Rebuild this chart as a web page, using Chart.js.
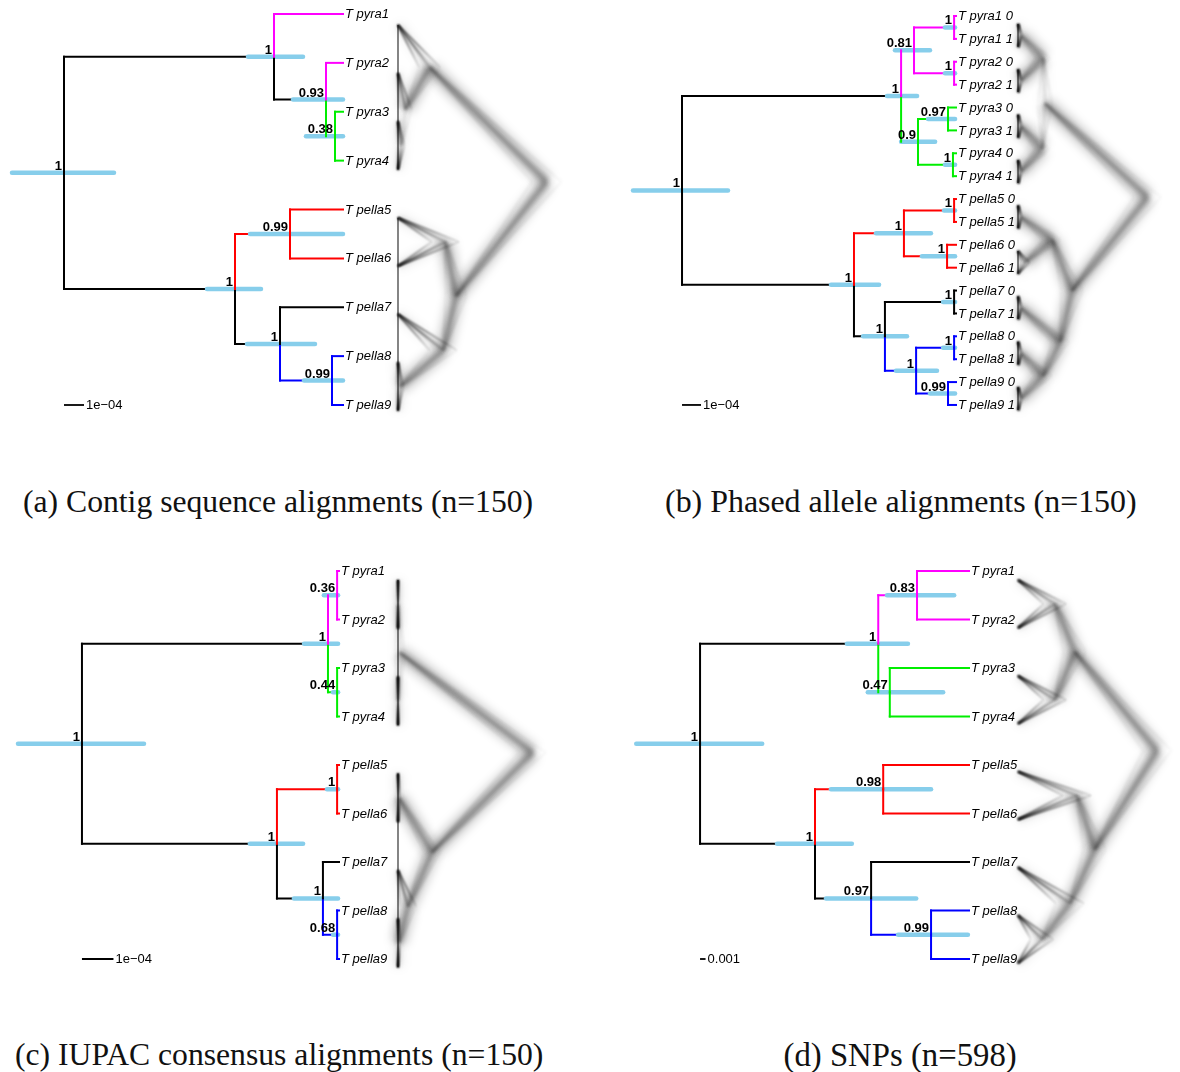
<!DOCTYPE html>
<html>
<head>
<meta charset="utf-8">
<script src="https://cdn.jsdelivr.net/npm/chart.js@4/dist/chart.umd.min.js"></script>
<style>
  html, body { margin: 0; padding: 0; background: #fff; }
  #fig { position: relative; width: 1180px; height: 1072px; overflow: hidden; background: #fff; }
  .panel { position: absolute; }
  .panel canvas { display: block; }
  .cap { position: absolute; font-family: "Liberation Serif", "DejaVu Serif", serif; font-size: 28px;
         line-height: 34px; color: #111; white-space: nowrap; }
</style>
</head>
<body>
<div id="fig">
  <div class="panel" style="left:0px;top:0px"><canvas id="cA" width="600" height="440"></canvas></div>
  <div class="panel" style="left:600px;top:0px"><canvas id="cB" width="580" height="440"></canvas></div>
  <div class="panel" style="left:0px;top:550px"><canvas id="cC" width="600" height="440"></canvas></div>
  <div class="panel" style="left:600px;top:550px"><canvas id="cD" width="580" height="440"></canvas></div>
  <div class="cap" data-cx="278" data-cy="502" data-w="510">(a) Contig sequence alignments (n=150)</div>
  <div class="cap" data-cx="901" data-cy="502" data-w="472">(b) Phased allele alignments (n=150)</div>
  <div class="cap" data-cx="279" data-cy="1055" data-w="528">(c) IUPAC consensus alignments (n=150)</div>
  <div class="cap" data-cx="900" data-cy="1055" data-w="233">(d) SNPs (n=598)</div>
</div>
<script>
// ===================== data =====================
// Node numbering: tips first (0..n-1), then internal nodes; the first internal node is the root.
// Heights are node ages above the tips (tree units), HPD = 95% height interval of the node.
// Cloud heights / spreads describe where the sampled trees place each node (centre, half-range).

// ---- (a) contig sequence alignments, units of 1e-4 ----
const tipsA = ['T pyra1','T pyra2','T pyra3','T pyra4','T pella5','T pella6','T pella7','T pella8','T pella9'];
const parentA = [10, 11, 12, 12, 14, 14, 15, 16, 16,  null, 9, 10, 11, 9, 13, 13, 15];
const cladeA = ['pyraA','pyraA','pyraB','pyraB','pellaA','pellaA','stem','pellaB','pellaB',
                'stem','stem','stem','pyraB','stem','pellaA','stem','pellaB'];
const heightA  = [13.95, 3.45, 0.85, 0.40, 5.40, 2.65, 3.15, 0.55];
const hpdLoA   = [11.45, 2.00, 0.00, 0.00, 4.10, 0.00, 1.40, 0.00];
const hpdHiA   = [16.55, 4.75, 2.50, 1.85, 6.80, 4.65, 4.80, 1.95];
const supportA = [1, 1, 0.93, 0.38, 1, 0.99, 1, 0.99];
const cloudHeightA = [14.1, 3.0, 0.7, 0.3, 5.5, 4.5, 4.3, 0.2];
const cloudSpreadA = [1.4, 1.0, 0.6, 0.3, 1.0, 1.3, 1.3, 0.3];
const cloudBarsA = [[0, 3], [4, 8]];

// ---- (b) phased allele alignments, units of 1e-4 ----
const tipsB = ['T pyra1 0','T pyra1 1','T pyra2 0','T pyra2 1','T pyra3 0','T pyra3 1','T pyra4 0','T pyra4 1',
               'T pella5 0','T pella5 1','T pella6 0','T pella6 1','T pella7 0','T pella7 1',
               'T pella8 0','T pella8 1','T pella9 0','T pella9 1'];
const parentB = [21, 21, 22, 22, 24, 24, 25, 25, 28, 28, 29, 29, 31, 31, 33, 33, 34, 34,
                 null, 18, 19, 20, 20, 19, 23, 23, 18, 26, 27, 27, 26, 30, 30, 32, 32];
const cladeB = ['pyraA','pyraA','pyraA','pyraA','pyraB','pyraB','pyraB','pyraB',
                'pellaA','pellaA','pellaA','pellaA','stem','stem','pellaB','pellaB','pellaB','pellaB',
                'stem','stem','pyraA','pyraA','pyraA','pyraB','pyraB','pyraB',
                'stem','pellaA','pellaA','pellaA','stem','stem','pellaB','pellaB','pellaB'];
const heightB  = [14.42, 2.89, 2.21, 0.10, 0.10, 2.00, 0.42, 0.16, 5.37, 2.74, 0.10, 0.47, 3.74, 0.10, 2.10, 0.10, 0.42];
const hpdLoB   = [12.00, 2.05, 1.37, 0.05, 0.05, 1.10, 0.05, 0.05, 4.05, 1.32, 0.05, 0.05, 2.58, 0.05, 1.00, 0.05, 0.05];
const hpdHiB   = [17.00, 3.63, 3.21, 0.58, 0.58, 2.89, 1.47, 0.58, 6.58, 4.21, 0.63, 1.79, 4.89, 0.68, 3.16, 0.68, 1.37];
const supportB = [1, 1, 0.81, 1, 1, 0.9, 0.97, 1, 1, 1, 1, 1, 1, 1, 1, 1, 0.99];
const cloudHeightB = [14.4, 3.0, 2.8, 0.3, 0.3, 2.7, 0.3, 0.3, 6.0, 3.8, 0.3, 0.8, 4.7, 0.3, 2.8, 0.3, 0.3];
const cloudSpreadB = [1.5, 0.8, 0.8, 0.2, 0.2, 0.8, 0.2, 0.2, 1.2, 1.0, 0.2, 0.5, 1.0, 0.2, 1.0, 0.2, 0.2];
const cloudBarsB = [[0,1],[2,3],[4,5],[6,7],[8,9],[10,11],[12,13],[14,15],[16,17]];

// ---- (c) IUPAC consensus alignments, units of 1e-4 ----
const tipsC = tipsA;
const parentC = [11, 11, 12, 12, 14, 14, 15, 16, 16,  null, 9, 10, 10, 9, 13, 13, 15];
const cladeC = ['pyraA','pyraA','pyraB','pyraB','pellaA','pellaA','stem','pellaB','pellaB',
                'stem','stem','pyraA','pyraB','stem','pellaA','stem','pellaB'];
const heightC  = [8.16, 0.35, 0.06, 0.06, 1.97, 0.06, 0.51, 0.06];
const hpdLoC   = [6.19, 0.03, 0.03, 0.03, 1.14, 0.03, 0.03, 0.03];
const hpdHiC   = [10.19, 1.11, 0.48, 0.19, 2.83, 0.38, 1.43, 0.19];
const supportC = [1, 1, 0.36, 0.44, 1, 1, 1, 0.68];
const cloudHeightC = [8.16, 0.1, 0.0, 0.0, 2.06, 0.05, 0.6, 0.05];
const cloudSpreadC = [0.8, 0.3, 0.0, 0.0, 0.5, 0.05, 0.5, 0.05];
const cloudBarsC = [[0, 3], [4, 8]];

// ---- (d) SNPs, units of 0.001 ----
const tipsD = tipsA;
const parentD = parentC;
const cladeD = cladeC;
const heightD  = [48.9, 16.5, 9.45, 14.4, 28.0, 15.6, 17.8, 6.9];
const hpdLoD   = [37.6, 11.1, 2.7, 4.7, 21.3, 6.9, 9.6, 0.2];
const hpdHiD   = [60.5, 22.2, 14.9, 18.4, 34.9, 25.1, 26.0, 12.9];
const supportD = [1, 1, 0.83, 0.47, 1, 0.98, 0.97, 0.99];
const cloudHeightD = [49, 20, 13, 13, 27, 20.8, 18.3, 8.5];
const cloudSpreadD = [5, 4, 4, 4, 4, 5, 5, 4];
const cloudBarsD = [];

const scaleLabels = { A: '1e\u221204', B: '1e\u221204', C: '1e\u221204', D: '0.001' };

// ===================== styles & layout =====================
const cladeColor = { stem: '#000000', pyraA: '#ff00ff', pyraB: '#00ee00', pellaA: '#ff0000', pellaB: '#0000ff' };
const HPD_COLOR = '#87ceeb';
const FONT_TIP = 'italic 13px "Liberation Sans", Arial, sans-serif';
const FONT_SUP = 'bold 13px "Liberation Sans", Arial, sans-serif';
const FONT_SCALE = '13px "Liberation Sans", Arial, sans-serif';

// pixel layout of each panel canvas: tree tips column, px per unit, tip rows; same for the cloud
const layouts = {
  A: { tipPx: 343, ppu: 20,   y0: 14, dy: 48.875, cTipPx: 398, cppu: 10.54, cy0: 25, cdy: 48.2 },
  B: { tipPx: 356, ppu: 19,   y0: 16, dy: 22.88,  cTipPx: 418, cppu: 9.0,   cy0: 24, cdy: 22.7 },
  C: { tipPx: 339, ppu: 31.5, y0: 21, dy: 48.5,   cTipPx: 398, cppu: 16.5,  cy0: 30, cdy: 48.4 },
  D: { tipPx: 369, ppu: 5.5,  y0: 21, dy: 48.5,   cTipPx: 418, cppu: 2.84,  cy0: 30, cdy: 47.9 }
};

// ===================== helpers =====================
function nodeGeometry(tips, parent, height, cloudHeight, cloudSpread) {
  const n = tips.length, total = parent.length;
  const kids = Array.from({ length: total }, () => []);
  parent.forEach((p, i) => { if (p !== null) kids[p].push(i); });
  const h = [], ch = [], cs = [], y = [];
  for (let i = 0; i < total; i++) {
    h[i] = i < n ? 0 : height[i - n];
    ch[i] = i < n ? 0 : cloudHeight[i - n];
    cs[i] = i < n ? 0 : cloudSpread[i - n];
  }
  function yOf(i) {
    if (y[i] !== undefined) return y[i];
    if (i < n) return (y[i] = i);
    const ys = kids[i].map(yOf);
    return (y[i] = ys.reduce((a, b) => a + b, 0) / ys.length);
  }
  for (let i = 0; i < total; i++) yOf(i);
  return { n, total, h, ch, cs, y, root: parent.indexOf(null) };
}

function fadeSegment(a0, a1) {
  return (c) => {
    const g = c.chart.ctx.createLinearGradient(c.p0.x, c.p0.y, c.p1.x + 0.01, c.p1.y + 0.01);
    g.addColorStop(0, `rgba(0,0,0,${a0})`);
    g.addColorStop(1, `rgba(0,0,0,${a1})`);
    return g;
  };
}

function line(points, extra) {
  return Object.assign({ data: points, showLine: true, pointRadius: 0, borderCapStyle: 'butt',
                         tension: 0, fill: false }, extra);
}

const hazePlugin = {
  id: 'haze',
  beforeDatasetDraw(chart, args) {
    const ds = chart.data.datasets[args.index];
    chart.ctx.save();
    if (ds.blurPx) chart.ctx.filter = `blur(${ds.blurPx}px)`;
  },
  afterDatasetDraw(chart) { chart.ctx.restore(); }
};

const labelPlugin = {
  id: 'treeLabels',
  afterDatasetsDraw(chart) {
    const t = chart.options.plugins.treeLabels;
    const { ctx, scales } = chart;
    const g = t.geo;
    ctx.save();
    ctx.fillStyle = '#000';
    // tip names
    ctx.font = FONT_TIP; ctx.textAlign = 'left'; ctx.textBaseline = 'middle';
    t.tips.forEach((name, i) => {
      ctx.fillText(name, scales.x.getPixelForValue(0) + 2, scales.y.getPixelForValue(i) + 0.5);
    });
    // posterior supports
    ctx.font = FONT_SUP; ctx.textAlign = 'right'; ctx.textBaseline = 'alphabetic';
    t.support.forEach((s, k) => {
      const i = g.n + k;
      ctx.fillText(String(s), scales.x.getPixelForValue(g.h[i]) - 2, scales.y.getPixelForValue(g.y[i]) - 3);
    });
    // scale bar label
    ctx.font = FONT_SCALE; ctx.textAlign = 'left'; ctx.textBaseline = 'middle';
    ctx.fillText(t.scaleLabel, scales.x.getPixelForValue(g.h[g.root] - 1) + 2,
                 scales.y.getPixelForValue(g.n - 1) + 0.5);
    ctx.restore();
  }
};

function buildPanel(canvasId, key, tips, parent, clade, height, lo, hi, support, cloudHeight, cloudSpread, cloudBars) {
  const canvas = document.getElementById(canvasId);
  const W = canvas.width, H = canvas.height;
  const L = layouts[key];
  const g = nodeGeometry(tips, parent, height, cloudHeight, cloudSpread);
  const ds = [];
  const axes = { xAxisID: 'xc', yAxisID: 'yc' };
  const rootH = g.ch[g.root];

  // --- cloud of sampled trees (right side) ---
  for (let i = 0; i < g.total; i++) {
    const p = parent[i];
    if (p === null) continue;
    const isTip = i < g.n;
    // edges close to the tips are crisp; long deep edges carry a wide haze
    const deep = !isTip && (g.ch[p] - g.ch[i]) > 0.05 * rootH;
    const shortInner = !isTip && !deep;
    const mid = [{ x: g.ch[i], y: g.y[i] }, { x: g.ch[p], y: g.y[p] }];
    ds.push(line(mid, Object.assign({
      borderColor: `rgba(0,0,0,${deep ? 0.2 : shortInner ? 0.04 : 0.07})`,
      borderWidth: deep ? 16 : 10, blurPx: 5, order: 9 }, axes)));
    ds.push(line(mid, Object.assign({
      borderColor: `rgba(0,0,0,${deep ? 0.26 : shortInner ? 0.06 : 0.12})`,
      borderWidth: deep ? 7 : 5, blurPx: 2.5, order: 8 }, axes)));
    // strands fanning out to the range of the parent's height
    [-1, 0, 1].forEach(s => {
      const pts = [{ x: g.ch[i], y: g.y[i] }, { x: g.ch[p] + s * g.cs[p], y: g.y[p] }];
      ds.push(line(pts, Object.assign({ borderColor: 'rgba(0,0,0,0.5)', borderWidth: s === 0 ? 2 : 1.5,
        blurPx: isTip ? 1.1 : 1.4, order: 7,
        segment: { borderColor: isTip ? fadeSegment(0.85, 0.12) : fadeSegment(0.2, 0.05) } }, axes)));
    });
  }
  cloudBars.forEach(([a, b]) => {
    ds.push(line([{ x: 0, y: a }, { x: 0, y: b }],
      Object.assign({ borderColor: 'rgba(0,0,0,0.8)', borderWidth: 1.2, order: 6 }, axes)));
  });

  // --- consensus tree ---
  for (let i = 0; i < g.total; i++) {
    const p = parent[i];
    if (p === null) continue;
    const col = cladeColor[clade[i]];
    ds.push(line([{ x: g.h[p], y: g.y[i] }, { x: g.h[i], y: g.y[i] }],
      { borderColor: col, borderWidth: 2, borderCapStyle: 'square', order: 5 }));
    ds.push(line([{ x: g.h[p], y: g.y[p] }, { x: g.h[p], y: g.y[i] }],
      { borderColor: col, borderWidth: 2, borderCapStyle: 'square', order: 3 }));
  }
  // node height intervals
  for (let k = 0; k < lo.length; k++) {
    const i = g.n + k;
    ds.push(line([{ x: lo[k], y: g.y[i] }, { x: hi[k], y: g.y[i] }],
      { borderColor: HPD_COLOR, borderWidth: 4.5, borderCapStyle: 'round', order: 4 }));
  }
  // scale bar: one unit from the root column
  ds.push(line([{ x: g.h[g.root], y: g.n - 1 }, { x: g.h[g.root] - 1, y: g.n - 1 }],
    { borderColor: '#000', borderWidth: 1.8, order: 2 }));

  const xMax = L.tipPx / L.ppu, xMin = xMax - W / L.ppu;
  const yMin = -L.y0 / L.dy, yMax = yMin + H / L.dy;
  const xcMin = -L.cTipPx / L.cppu, xcMax = xcMin + W / L.cppu;
  const ycMin = -L.cy0 / L.cdy, ycMax = ycMin + H / L.cdy;

  return new Chart(canvas, {
    type: 'scatter',
    data: { datasets: ds },
    plugins: [hazePlugin, labelPlugin],
    options: {
      responsive: false, animation: false, events: [], devicePixelRatio: 1,
      layout: { padding: 0 },
      plugins: {
        legend: { display: false }, tooltip: { enabled: false },
        treeLabels: { tips, support, geo: g, scaleLabel: scaleLabels[key] }
      },
      scales: {
        x:  { type: 'linear', reverse: true, min: xMin, max: xMax, display: false },
        y:  { type: 'linear', reverse: true, min: yMin, max: yMax, display: false },
        xc: { type: 'linear', axis: 'x', min: xcMin, max: xcMax, display: false },
        yc: { type: 'linear', axis: 'y', reverse: true, min: ycMin, max: ycMax, display: false }
      }
    }
  });
}

buildPanel('cA', 'A', tipsA, parentA, cladeA, heightA, hpdLoA, hpdHiA, supportA, cloudHeightA, cloudSpreadA, cloudBarsA);
buildPanel('cB', 'B', tipsB, parentB, cladeB, heightB, hpdLoB, hpdHiB, supportB, cloudHeightB, cloudSpreadB, cloudBarsB);
buildPanel('cC', 'C', tipsC, parentC, cladeC, heightC, hpdLoC, hpdHiC, supportC, cloudHeightC, cloudSpreadC, cloudBarsC);
buildPanel('cD', 'D', tipsD, parentD, cladeD, heightD, hpdLoD, hpdHiD, supportD, cloudHeightD, cloudSpreadD, cloudBarsD);

// sub-figure captions: size each to its line width and centre it
document.querySelectorAll('.cap').forEach(el => {
  const target = +el.dataset.w;
  const fs = 28 * target / el.offsetWidth;
  el.style.fontSize = fs.toFixed(2) + 'px';
  el.style.left = (+el.dataset.cx - el.offsetWidth / 2) + 'px';
  el.style.top = (+el.dataset.cy - el.offsetHeight / 2) + 'px';
});
</script>
</body>
</html>
